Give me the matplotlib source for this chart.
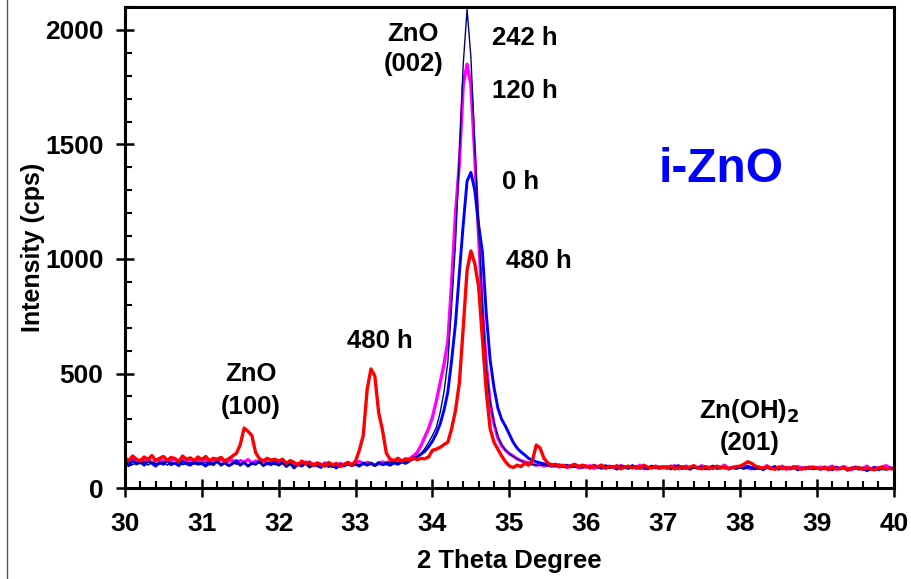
import numpy as np
import matplotlib
matplotlib.use("Agg")
import matplotlib.pyplot as plt
from matplotlib.ticker import MultipleLocator
from matplotlib.lines import Line2D

plt.rcParams['font.family'] = ['Liberation Sans', 'DejaVu Sans']
plt.rcParams['font.weight'] = 'bold'

# 2 theta sampling grid (step 0.05 deg), 30 -> 40
two_theta = np.round(np.linspace(30, 40, 201), 2)

# intensities, one row per degree (20 values) + last point at 40
int_0h = [
    112, 98, 120, 105, 115, 100, 118, 108, 96, 112, 104, 120, 102, 110, 98, 116, 106, 100, 114, 104,
    108, 96, 114, 102, 118, 100, 110, 98, 106, 120, 100, 112, 96, 108, 104, 118, 98, 110, 102, 114,
    100, 112, 94, 108, 88, 104, 96, 110, 92, 102, 98, 90, 106, 94, 100, 88, 104, 96, 108, 98,
    104, 96, 110, 100, 108, 98, 112, 102, 106, 100, 110, 104, 114, 108, 118, 128, 138, 148, 160, 180,
    205, 238, 280, 340, 420, 560, 720, 940, 1150, 1340, 1378, 1300, 1150, 1030, 760, 560, 440, 350, 300, 270,
    235, 200, 175, 158, 145, 130, 122, 115, 110, 106, 100, 104, 96, 102, 94, 100, 92, 98, 96, 90,
    96, 88, 100, 92, 86, 98, 90, 94, 84, 96, 90, 88, 98, 86, 92, 90, 84, 96, 88, 92,
    88, 94, 84, 92, 98, 86, 90, 82, 94, 88, 92, 84, 90, 96, 86, 88, 92, 84, 90, 86,
    92, 86, 96, 88, 84, 92, 80, 90, 86, 94, 82, 88, 90, 84, 92, 80, 88, 86, 90, 84,
    88, 82, 90, 86, 80, 92, 84, 88, 78, 86, 90, 82, 88, 76, 84, 90, 80, 86, 82, 88,
    84]

int_120h = [
    124, 116, 130, 112, 122, 118, 128, 110, 120, 126, 114, 124, 118, 130, 112, 122, 116, 126, 110, 120,
    118, 124, 110, 120, 114, 126, 112, 118, 122, 108, 120, 114, 124, 110, 118, 112, 122, 106, 116, 120,
    110, 116, 104, 112, 98, 108, 102, 114, 96, 106, 100, 94, 110, 98, 104, 92, 108, 100, 112, 104,
    110, 116, 104, 112, 108, 100, 106, 114, 110, 118, 112, 120, 116, 124, 128, 140, 155, 185, 222, 260,
    310, 380, 460, 540, 640, 900, 1200, 1420, 1760, 1850, 1760, 1450, 1100, 780, 540, 370, 280, 220, 185, 165,
    150, 140, 128, 120, 114, 110, 104, 100, 106, 96, 102, 94, 100, 92, 98, 90, 96, 100, 88, 94,
    92, 98, 86, 94, 100, 88, 96, 90, 84, 98, 92, 86, 96, 90, 100, 84, 92, 88, 96, 90,
    94, 86, 92, 98, 84, 90, 96, 88, 92, 86, 98, 90, 84, 94, 88, 92, 100, 86, 90, 88,
    90, 96, 88, 84, 94, 90, 86, 98, 84, 92, 88, 96, 82, 90, 86, 94, 88, 84, 92, 90,
    86, 92, 84, 90, 96, 82, 88, 94, 86, 80, 92, 88, 84, 96, 82, 90, 86, 92, 98, 88,
    86]

int_242h = [
    108, 114, 102, 110, 106, 116, 100, 112, 108, 104, 114, 100, 110, 106, 118, 102, 108, 112, 104, 110,
    106, 112, 100, 108, 114, 104, 110, 98, 112, 106, 102, 110, 100, 108, 104, 112, 98, 106, 110, 102,
    104, 108, 98, 104, 94, 102, 96, 108, 92, 100, 96, 104, 94, 100, 90, 102, 96, 106, 98, 102,
    106, 100, 110, 104, 112, 100, 108, 106, 112, 110, 116, 108, 118, 114, 120, 124, 136, 150, 172, 200,
    230, 265, 330, 420, 550, 800, 1070, 1450, 1850, 2090, 1880, 1500, 1150, 800, 520, 380, 290, 225, 190, 165,
    150, 138, 128, 120, 112, 108, 104, 100, 98, 102, 96, 100, 94, 98, 92, 96, 100, 90, 96, 92,
    94, 90, 98, 88, 92, 96, 86, 94, 90, 88, 96, 86, 92, 90, 84, 94, 88, 92, 86, 90,
    88, 92, 86, 94, 90, 84, 92, 88, 86, 94, 90, 82, 88, 92, 86, 90, 84, 88, 92, 86,
    90, 84, 88, 92, 86, 82, 90, 88, 84, 92, 86, 80, 88, 84, 90, 86, 82, 88, 84, 90,
    86, 82, 88, 84, 80, 90, 84, 86, 80, 88, 82, 86, 78, 84, 88, 82, 86, 80, 84, 88,
    84]

int_480h = [
    132, 120, 140, 126, 118, 136, 124, 142, 120, 130, 138, 122, 134, 128, 116, 140, 126, 132, 120, 136,
    124, 138, 120, 130, 126, 134, 118, 128, 140, 152, 190, 262, 248, 230, 155, 128, 118, 130, 122, 126,
    118, 126, 108, 120, 112, 100, 118, 106, 114, 98, 110, 104, 96, 112, 100, 108, 94, 104, 112, 100,
    118, 166, 230, 430, 520, 490, 330, 253, 152, 126, 120, 130, 118, 128, 122, 132, 124, 130, 128, 136,
    165, 170, 178, 190, 200, 260, 340, 460, 700, 950, 1035, 980, 880, 650, 420, 260, 200, 170, 140, 115,
    96, 90, 100, 94, 108, 100, 120, 188, 175, 130, 110, 100, 104, 96, 100, 92, 98, 104, 94, 100,
    96, 88, 98, 92, 100, 86, 94, 90, 98, 84, 92, 96, 88, 94, 86, 100, 90, 88, 94, 86,
    92, 88, 96, 84, 90, 94, 86, 92, 98, 88, 84, 94, 90, 86, 96, 88, 92, 84, 90, 94,
    96, 104, 115, 108, 96, 90, 86, 94, 88, 82, 92, 86, 90, 84, 94, 88, 82, 90, 86, 92,
    88, 84, 92, 80, 90, 86, 84, 92, 80, 88, 86, 90, 82, 88, 84, 80, 88, 92, 84, 86,
    82]

fig = plt.figure(figsize=(9.12, 5.79), dpi=100)
ax = fig.add_axes([0.137, 0.157, 0.843, 0.831])

# draw order: magenta under blue, navy thin on top, red last
ax.plot(two_theta, int_120h, color="#FF00FF", lw=2.4)
ax.plot(two_theta, int_0h, color="#0000FF", lw=2.1)
ax.plot(two_theta, int_242h, color="#000080", lw=1.0)
ax.plot(two_theta, int_480h, color="#FF0000", lw=2.4)

ax.set_xlim(30, 40)
ax.set_ylim(0, 2100)
ax.xaxis.set_major_locator(MultipleLocator(1))
ax.xaxis.set_minor_locator(MultipleLocator(0.2))
ax.yaxis.set_major_locator(MultipleLocator(500))
ax.yaxis.set_minor_locator(MultipleLocator(100))

for s in ax.spines.values():
    s.set_linewidth(2.2)
ax.tick_params(which="major", direction="inout", length=13, width=1.8, labelsize=19)
ax.tick_params(axis="x", which="major", pad=11)
ax.tick_params(axis="y", which="major", pad=9)
ax.tick_params(which="minor", direction="in", length=5, width=1.5)
ax.tick_params(top=False, right=False, which="both")

ax.set_xlabel("2 Theta Degree", fontsize=18.5, fontweight="bold", labelpad=9)
ax.set_ylabel("Intensity (cps)", fontsize=18, fontweight="bold", labelpad=0)

# annotations
fs = 18.5
ax.text(33.75, 1982, "ZnO", ha="center", va="center", fontsize=fs, fontweight="bold")
ax.text(33.75, 1852, "(002)", ha="center", va="center", fontsize=fs, fontweight="bold")
ax.text(34.78, 1965, "242 h", ha="left", va="center", fontsize=fs, fontweight="bold")
ax.text(34.78, 1734, "120 h", ha="left", va="center", fontsize=fs, fontweight="bold")
ax.text(34.91, 1334, "0 h", ha="left", va="center", fontsize=fs, fontweight="bold")
ax.text(34.96, 993, "480 h", ha="left", va="center", fontsize=fs, fontweight="bold")
ax.text(33.31, 640, "480 h", ha="center", va="center", fontsize=fs, fontweight="bold")
ax.text(31.64, 497, "ZnO", ha="center", va="center", fontsize=fs, fontweight="bold")
ax.text(31.64, 353, "(100)", ha="center", va="center", fontsize=fs, fontweight="bold")
ax.text(38.12, 335, "Zn(OH)$_\\mathbf{2}$", ha="center", va="center", fontsize=fs, fontweight="bold")
ax.text(38.13, 196, "(201)", ha="center", va="center", fontsize=fs, fontweight="bold")
ax.text(37.75, 1390, "i-ZnO", ha="center", va="center", fontsize=34.5, fontweight="bold", color="#0000FF")

# thin frame line at the left edge of the picture
fig.add_artist(Line2D([0.008, 0.008], [0.0, 1.0], transform=fig.transFigure, color="#555555", lw=1.0))

fig.savefig("out.png", dpi=100)
